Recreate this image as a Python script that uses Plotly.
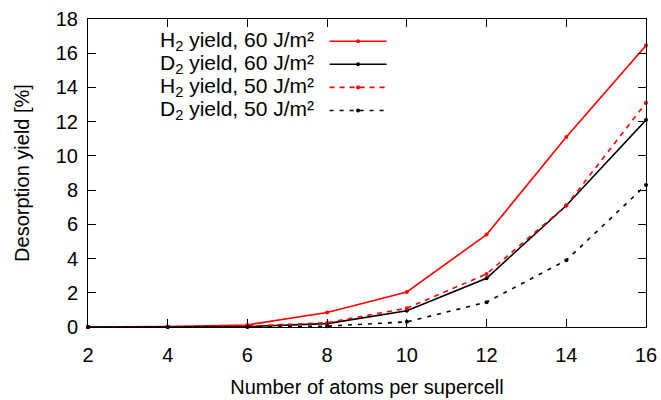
import plotly.graph_objects as go

atoms = [2, 4, 6, 8, 10, 12, 14, 16]
h2_60 = [0.0, 0.02, 0.12, 0.85, 2.05, 5.4, 11.1, 16.45]
d2_60 = [0.0, 0.0, 0.03, 0.2, 0.95, 2.85, 7.1, 12.1]
h2_50 = [0.0, 0.0, 0.05, 0.25, 1.1, 3.1, 7.1, 13.1]
d2_50 = [0.0, 0.0, 0.0, 0.05, 0.3, 1.45, 3.9, 8.3]

names = ["H<sub>2</sub> yield, 60 J/m²", "D<sub>2</sub> yield, 60 J/m²",
         "H<sub>2</sub> yield, 50 J/m²", "D<sub>2</sub> yield, 50 J/m²"]
series = [h2_60, d2_60, h2_50, d2_50]
colors = ["#ff0000", "#000000", "#ff0000", "#000000"]
dashes = ["solid", "solid", "5px,5px", "4px,6px"]

FONT = "Liberation Sans, Arial, sans-serif"
FS = 20
fig = go.Figure()
for n, s, c, d in zip(names, series, colors, dashes):
    fig.add_trace(go.Scatter(x=atoms, y=s, mode="lines+markers", name=n,
                             line=dict(color=c, width=1.6, dash=d),
                             marker=dict(color=c, size=4), showlegend=False,
                             cliponaxis=False))

# manual legend (gnuplot style: text then sample)
ys = [0.928, 0.853, 0.778, 0.703]
for n, c, d, yy in zip(names, colors, dashes, ys):
    fig.add_annotation(xref="paper", yref="paper", x=0.409, y=yy, text=n,
                       showarrow=False, xanchor="right", yanchor="middle",
                       font=dict(family=FONT, size=21, color="#000"))
    fig.add_shape(type="line", xref="paper", yref="paper", x0=0.433, x1=0.535,
                  y0=yy, y1=yy, line=dict(color=c, width=1.6, dash=d))
    fig.add_shape(type="circle", xref="paper", yref="paper",
                  x0=0.484 - 0.0035, x1=0.484 + 0.0035, y0=yy - 0.0065, y1=yy + 0.0065,
                  fillcolor=c, line=dict(color=c, width=0))

axis_common = dict(showline=True, linecolor="#000", linewidth=1, mirror="ticks",
                   ticks="inside", ticklen=8, tickcolor="#000", showgrid=False,
                   zeroline=False, automargin=False,
                   tickfont=dict(family=FONT, size=FS, color="#000"))
fig.update_xaxes(range=[2, 16], tickvals=list(range(2, 17, 2)), ticklabelstandoff=10,
                 title=dict(text="Number of atoms per supercell",
                            font=dict(family=FONT, size=FS, color="#000"), standoff=14),
                 **axis_common)
fig.update_yaxes(range=[0, 18], tickvals=list(range(0, 19, 2)), ticklabelstandoff=5,
                 title=dict(text="Desorption yield [%]",
                            font=dict(family=FONT, size=FS, color="#000"), standoff=20),
                 **axis_common)
fig.update_layout(width=661, height=400, margin=dict(l=88, r=15, t=19, b=73),
                  plot_bgcolor="white", paper_bgcolor="white",
                  font=dict(family=FONT, size=FS, color="#000"))
fig.write_html("out.html")
